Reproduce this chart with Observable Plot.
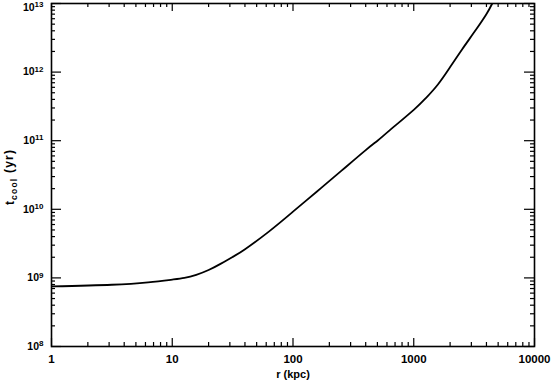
<!DOCTYPE html>
<html>
<head>
<meta charset="utf-8">
<script src="https://cdn.jsdelivr.net/npm/d3@7"></script>
<script src="https://cdn.jsdelivr.net/npm/@observablehq/plot@0.6"></script>
<style>
  html, body { margin: 0; padding: 0; background: #fff; }
  svg { font-family: "Liberation Sans", Helvetica, Arial, sans-serif; }
</style>
</head>
<body>
<div id="chart"></div>
<script>
// Data
const rKpc  = [1, 3.16, 6.31, 10, 12.6, 15.8, 20.0, 25.1, 31.6, 39.8, 63.1, 100, 158, 251, 398, 501, 631, 1000, 1259, 1585, 1995, 2512, 3162, 3981, 4467];
const tCool = [7.50e8, 7.94e8, 8.61e8, 9.44e8, 1.0e9, 1.109e9, 1.303e9, 1.603e9, 2.018e9, 2.60e9, 4.73e9, 9.23e9, 1.820e10, 3.63e10, 7.24e10, 1.0e11, 1.413e11, 2.82e11, 4.17e11, 6.61e11, 1.175e12, 2.14e12, 3.80e12, 6.92e12, 1.0e13];

const xMajor = [1, 10, 100, 1000, 10000];
const yMajor = [1e8, 1e9, 1e10, 1e11, 1e12, 1e13];
const minorMult = [2, 3, 4, 5, 6, 7, 8, 9];
const xMinor = xMajor.slice(0, -1).flatMap(d => minorMult.map(m => d * m));
const yMinor = yMajor.slice(0, -1).flatMap(d => minorMult.map(m => d * m));

const xTitle = "r (kpc)";
const yTitleMain = "t", yTitleSub = "cool", yTitleRest = " (yr)";

const data = rKpc.map((r, i) => ({r, t: tCool[i]}));

const W = 553, H = 382;
const mL = 51, mR = 19, mT = 3, mB = 36;
const fw = W - mL - mR, fh = H - mT - mB;

const chart = Plot.plot({
  width: W, height: H,
  marginLeft: mL, marginRight: mR, marginTop: mT, marginBottom: mB,
  style: {fontFamily: "'Liberation Sans', Helvetica, Arial, sans-serif", fontSize: "11px", color: "black", background: "white", overflow: "visible"},
  x: {type: "log", domain: [1, 10000], axis: null},
  y: {type: "log", domain: [1e8, 1e13], axis: null},
  marks: [
    // inside ticks, bottom/top
    Plot.tickX(xMajor, {x: d => d, insetTop: fh - 8, stroke: "black", strokeWidth: 1.2}),
    Plot.tickX(xMajor, {x: d => d, insetBottom: fh - 8, stroke: "black", strokeWidth: 1.2}),
    Plot.tickX(xMinor, {x: d => d, insetTop: fh - 4, stroke: "black", strokeWidth: 1.2}),
    Plot.tickX(xMinor, {x: d => d, insetBottom: fh - 4, stroke: "black", strokeWidth: 1.2}),
    // inside ticks, left/right
    Plot.tickY(yMajor, {y: d => d, insetRight: fw - 10, stroke: "black", strokeWidth: 1.2}),
    Plot.tickY(yMajor, {y: d => d, insetLeft: fw - 10, stroke: "black", strokeWidth: 1.2}),
    Plot.tickY(yMinor, {y: d => d, insetRight: fw - 4, stroke: "black", strokeWidth: 1.2}),
    Plot.tickY(yMinor, {y: d => d, insetLeft: fw - 4, stroke: "black", strokeWidth: 1.2}),
    Plot.line(data, {x: "r", y: "t", curve: "natural", stroke: "black", strokeWidth: 1.8, clip: true}),
    Plot.frame({stroke: "black", strokeWidth: 1.6}),
    Plot.axisX({ticks: xMajor, tickSize: 0, tickPadding: 8, tickFormat: d => String(d), fontSize: 11.5, fontWeight: "bold", label: null}),
    Plot.axisY({ticks: yMajor, tickSize: 0, tickPadding: 8, tickFormat: d => "10^" + Math.round(Math.log10(d)), fontSize: 10.5, fontWeight: "bold", label: null}),
    Plot.text([xTitle], {frameAnchor: "bottom", dy: 31, lineAnchor: "bottom", text: d => d, fontSize: 11, fontWeight: "bold"})
  ]
});

// Superscripts on y tick labels; keep the top one inside the picture
d3.select(chart).selectAll("g[aria-label='y-axis tick label'] text").each(function() {
  const s = this.textContent;
  const [base, exp] = s.split("^");
  const t = d3.select(this);
  t.text("");
  t.append("tspan").text(base);
  t.append("tspan").attr("dy", "-0.45em").attr("font-size", "8px").text(exp);
  if (exp === "13") {
    const tr = t.attr("transform") || "";
    t.attr("transform", tr + " translate(0,4)");
  }
});

// Y title with subscript
const yt = d3.select(chart).append("text")
  .attr("transform", `translate(14,177) rotate(-90)`)
  .attr("text-anchor", "middle")
  .attr("font-size", "12px")
  .attr("font-weight", "bold")
  .attr("letter-spacing", "1.2px")
  .attr("fill", "black");
yt.append("tspan").text(yTitleMain);
yt.append("tspan").attr("dy", "0.3em").attr("font-size", "8.5px").text(yTitleSub);
yt.append("tspan").attr("dy", "-0.3em").text(yTitleRest);

document.getElementById("chart").appendChild(chart);
</script>
</body>
</html>
